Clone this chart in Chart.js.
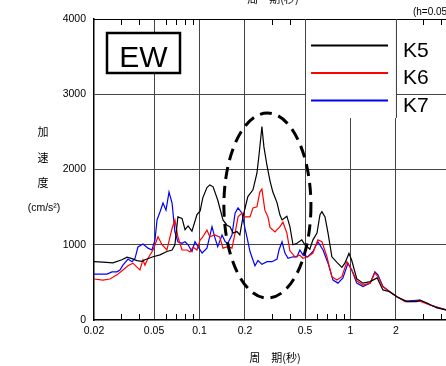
<!DOCTYPE html>
<html lang="ja">
<head>
    <meta charset="UTF-8">
    <title>加速度応答スペクトル EW</title>
    <script src="https://cdn.jsdelivr.net/npm/chart.js"></script>
    <style>
        html, body { margin: 0; padding: 0; background: #fff; overflow: hidden; }
        .wrap { width: 470px; height: 366px; }
    </style>
</head>
<body>
<div class="wrap"><canvas id="spectrumChart" width="470" height="366"></canvas></div>
<script>
    // 周期(秒) と 加速度(cm/s2) — 図から読み取った値
    const periodK5 = [0.02,0.0229,0.0267,0.0306,0.0331,0.0357,0.0385,0.0416,0.0435,0.0492,0.0547,0.0608,0.0658,0.0687,0.0719,0.0766,0.0802,0.084,0.0891,0.0962,0.101,0.105,0.112,0.117,0.123,0.132,0.143,0.152,0.159,0.167,0.177,0.185,0.194,0.209,0.226,0.24,0.248,0.259,0.267,0.28,0.293,0.306,0.326,0.341,0.352,0.368,0.379,0.397,0.416,0.442,0.476,0.499,0.538,0.564,0.6,0.628,0.647,0.678,0.71,0.753,0.813,0.877,0.918,0.977,1.02,1.1,1.21,1.35,1.5,1.64,1.82,2.03,2.37,2.75,2.88,3.21,3.74,4.29,5.0];
    const accelK5 = [775,770,760,800,835,815,790,780,800,840,865,910,930,1000,1370,1350,1200,1250,1180,1400,1450,1620,1760,1795,1770,1595,1330,1260,1240,1155,1175,1130,1370,1640,1730,1950,2200,2570,2300,2050,1850,1700,1560,1395,1330,1360,1380,1240,1000,1020,1065,1000,940,1065,1155,1400,1440,1370,1155,840,765,700,755,885,790,550,490,510,560,400,375,310,245,245,265,225,160,135,115];

    const periodK6 = [0.02,0.0229,0.0255,0.0284,0.0311,0.0336,0.0362,0.0391,0.0403,0.0422,0.0435,0.0456,0.0492,0.0531,0.0564,0.0608,0.0658,0.0687,0.0719,0.0766,0.0826,0.0865,0.0906,0.0962,0.101,0.104,0.112,0.117,0.126,0.136,0.143,0.154,0.164,0.172,0.18,0.191,0.2,0.216,0.226,0.24,0.251,0.259,0.271,0.284,0.293,0.316,0.341,0.357,0.379,0.397,0.429,0.462,0.484,0.522,0.564,0.608,0.647,0.698,0.753,0.813,0.877,0.947,1.02,1.1,1.21,1.35,1.45,1.52,1.64,1.82,2.03,2.3,2.88,3.36,4.29,5.0];
    const accelK6 = [545,530,545,600,665,720,755,690,665,800,730,820,930,1105,1000,930,1220,1330,1105,930,930,905,970,930,1065,1090,1195,1105,1130,1105,955,975,955,1155,1370,1420,1370,1370,1490,1505,1700,1740,1460,1370,1230,1170,1240,1300,1155,920,840,860,820,840,890,1065,1040,840,575,530,575,775,665,520,465,490,625,575,445,375,310,245,250,200,135,115];

    const periodK7 = [0.02,0.0244,0.0263,0.0284,0.0297,0.0311,0.0336,0.0357,0.0374,0.0391,0.0422,0.0456,0.0484,0.0507,0.0523,0.0547,0.0573,0.06,0.0628,0.0658,0.0687,0.0719,0.0766,0.0802,0.084,0.0891,0.0933,0.0977,0.104,0.112,0.121,0.126,0.132,0.141,0.148,0.154,0.164,0.172,0.18,0.191,0.2,0.206,0.216,0.222,0.233,0.244,0.259,0.28,0.302,0.326,0.336,0.352,0.368,0.386,0.416,0.442,0.462,0.484,0.522,0.564,0.608,0.658,0.71,0.766,0.826,0.891,0.962,1.02,1.1,1.21,1.35,1.45,1.52,1.64,1.82,2.03,2.3,2.88,3.36,4.29,5.0];
    const accelK7 = [610,610,640,640,665,730,810,775,820,970,1010,955,930,1065,1330,1435,1555,1460,1700,1555,1170,1040,1020,1040,1000,910,1040,975,890,955,1240,1105,975,1130,1040,1020,1130,1420,1490,1420,1220,1105,910,840,720,790,740,775,775,810,930,1040,890,820,840,840,930,865,840,910,1040,930,755,530,490,560,755,665,490,445,490,640,600,445,375,310,250,265,200,135,115];

    const seriesNames = ['K5', 'K6', 'K7'];
    const seriesColors = ['#000000', '#ff0000', '#0000ff'];

    // 軸目盛
    const xLabelTicks = [0.02, 0.05, 0.1, 0.2, 0.5, 1, 2, 5];
    const xGridTicks = [0.05, 0.1, 0.2, 0.5, 1, 2];
    const xMinorTicks = [0.03, 0.04, 0.06, 0.07, 0.08, 0.09, 0.3, 0.4, 0.6, 0.7, 0.8, 0.9, 3, 4];
    const yTicks = [0, 1000, 2000, 3000, 4000];

    // 破線の楕円 (周期範囲, 加速度範囲)
    const ellipsePeriod = [0.145, 0.547];
    const ellipseAccel = [292, 2751];

    const FONT = 'Arial, "Liberation Sans", sans-serif';
    const CJK = '"Noto Sans CJK JP", "Noto Sans CJK SC", sans-serif';

    const toPoints = (xs, ys) => xs.map((x, i) => ({ x: x, y: ys[i] }));
    const near = (a, b) => Math.abs(a - b) < 1e-9;

    const decor = {
        id: 'decor',
        afterDatasetsDraw(chart) {
            const ctx = chart.ctx;
            const a = chart.chartArea;
            const xs = chart.scales.x, ys = chart.scales.y;
            ctx.save();

            // 内向きの補助目盛
            ctx.strokeStyle = '#000';
            ctx.lineWidth = 1;
            xMinorTicks.forEach(v => {
                const px = Math.round(xs.getPixelForValue(v)) + 0.5;
                ctx.beginPath();
                ctx.moveTo(px, a.bottom); ctx.lineTo(px, a.bottom - 6);
                ctx.moveTo(px, a.top); ctx.lineTo(px, a.top + 6);
                ctx.stroke();
            });
            // 上枠
            ctx.beginPath();
            ctx.moveTo(a.left, a.top + 0.5); ctx.lineTo(a.right, a.top + 0.5);
            ctx.stroke();

            // 破線の楕円
            const ex0 = xs.getPixelForValue(ellipsePeriod[0]);
            const ex1 = xs.getPixelForValue(ellipsePeriod[1]);
            const ey0 = ys.getPixelForValue(ellipseAccel[0]);
            const ey1 = ys.getPixelForValue(ellipseAccel[1]);
            ctx.beginPath();
            ctx.setLineDash([12, 7]);
            ctx.lineWidth = 3;
            ctx.ellipse((ex0 + ex1) / 2, (ey0 + ey1) / 2, (ex1 - ex0) / 2, (ey0 - ey1) / 2, 0, 0, Math.PI * 2);
            ctx.stroke();
            ctx.setLineDash([]);

            // EW の枠
            ctx.fillStyle = '#fff';
            ctx.fillRect(a.left + 13, a.top + 14, 73, 40);
            ctx.lineWidth = 2.5;
            ctx.strokeRect(a.left + 13, a.top + 14, 73, 40);
            ctx.fillStyle = '#000';
            ctx.font = '30px ' + FONT;
            ctx.textAlign = 'center';
            ctx.textBaseline = 'alphabetic';
            ctx.fillText('EW', a.left + 49.5, a.top + 48);

            // 凡例
            const lx0 = xs.getPixelForValue(0.5), lx1 = xs.getPixelForValue(2);
            ctx.fillStyle = '#fff';
            ctx.fillRect(lx0, a.top + 1, lx1 - lx0, 98);
            ctx.strokeStyle = '#444';
            ctx.lineWidth = 1;
            ctx.beginPath();
            ctx.moveTo(Math.round(lx0) + 0.5, a.top); ctx.lineTo(Math.round(lx0) + 0.5, a.top + 99);
            ctx.moveTo(Math.round(lx1) + 0.5, a.top); ctx.lineTo(Math.round(lx1) + 0.5, a.top + 99);
            ctx.stroke();
            ctx.font = '21px ' + FONT;
            ctx.textAlign = 'left';
            seriesNames.forEach((name, i) => {
                const ly = a.top + 26.5 + i * 27.5;
                ctx.strokeStyle = seriesColors[i];
                ctx.lineWidth = 2;
                ctx.beginPath();
                ctx.moveTo(lx0 + 6, ly); ctx.lineTo(lx0 + 83, ly);
                ctx.stroke();
                ctx.fillStyle = '#000';
                ctx.fillText(name, lx1 + 7, ly + 11);
            });

            // 軸タイトル
            ctx.fillStyle = '#000';
            ctx.textAlign = 'center';
            ctx.textBaseline = 'middle';
            ctx.font = '11px ' + CJK;
            ['加', '速', '度'].forEach((ch, i) => ctx.fillText(ch, a.left - 51, a.top + 113 + i * 25.5));
            ctx.font = '10.5px ' + FONT;
            ctx.fillText('(cm/s²)', a.left - 50, a.top + 189);

            ctx.font = '11px ' + CJK;
            ctx.fillText('周　期(秒)', a.left + 181, a.bottom + 38);
            ctx.fillText('周　期(秒)', a.left + 179, a.top - 20);

            ctx.font = '10px ' + FONT;
            ctx.textAlign = 'left';
            ctx.fillText('(h=0.05)', lx1 + 17, a.top - 7);
            ctx.restore();
        }
    };

    new Chart(document.getElementById('spectrumChart'), {
        type: 'line',
        data: {
            datasets: [
                { label: 'K5', data: toPoints(periodK5, accelK5), borderColor: seriesColors[0] },
                { label: 'K6', data: toPoints(periodK6, accelK6), borderColor: seriesColors[1] },
                { label: 'K7', data: toPoints(periodK7, accelK7), borderColor: seriesColors[2] }
            ]
        },
        options: {
            responsive: false,
            animation: false,
            devicePixelRatio: 1,
            parsing: false,
            layout: { padding: { top: 19, right: 14, left: 0, bottom: 0 } },
            elements: {
                line: { borderWidth: 1.2, tension: 0, fill: false },
                point: { radius: 0 }
            },
            plugins: {
                legend: { display: false },
                tooltip: { enabled: false }
            },
            scales: {
                x: {
                    type: 'logarithmic',
                    min: 0.02,
                    max: 5,
                    afterBuildTicks: (scale) => {
                        scale.ticks = xLabelTicks.map(v => ({ value: v }));
                    },
                    afterFit: (scale) => { scale.height = 46; },
                    ticks: {
                        autoSkip: false,
                        maxRotation: 0,
                        padding: 5,
                        color: '#000',
                        font: { family: FONT, size: 10.5 },
                        callback: (v) => String(v)
                    },
                    grid: {
                        drawTicks: false,
                        color: (c) => (c.tick && xGridTicks.some(g => near(g, c.tick.value))) ? '#444' : 'rgba(0,0,0,0)'
                    },
                    border: { color: '#000', width: 1.5 }
                },
                y: {
                    min: 0,
                    max: 4000,
                    afterBuildTicks: (scale) => {
                        scale.ticks = yTicks.map(v => ({ value: v }));
                    },
                    afterFit: (scale) => { scale.width = 94; },
                    ticks: {
                        padding: 8,
                        color: '#000',
                        font: { family: FONT, size: 10.5 },
                        callback: (v) => String(v)
                    },
                    grid: {
                        drawTicks: false,
                        color: (c) => (c.tick && c.tick.value > 0 && c.tick.value < 4000) ? '#444' : 'rgba(0,0,0,0)'
                    },
                    border: { color: '#000', width: 1.5 }
                }
            }
        },
        plugins: [decor]
    });
</script>
</body>
</html>
